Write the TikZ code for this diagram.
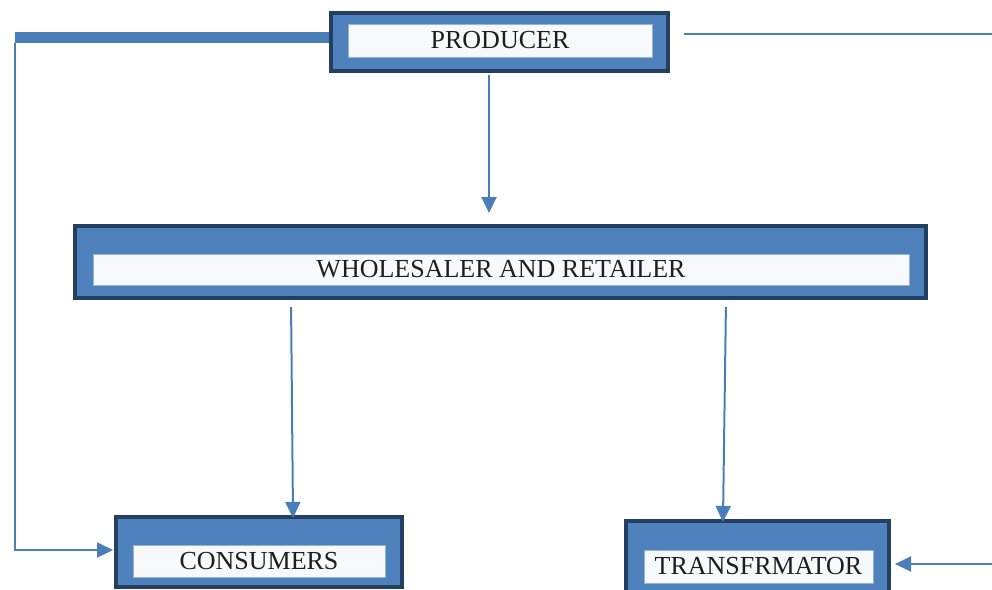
\documentclass[tikz,border=0pt]{standalone}
\usepackage{fontspec}
\setmainfont{Liberation Serif}
\usetikzlibrary{arrows.meta,calc}
\definecolor{boxdark}{HTML}{243F60}
\definecolor{boxblue}{HTML}{4F81BD}
\definecolor{boxwhite}{HTML}{F8F9FA}
\definecolor{linkblue}{HTML}{4A7EBB}
\definecolor{txt}{HTML}{1E1E1E}
\begin{document}
\begin{tikzpicture}[x=1pt,y=-1pt,
  outerbox/.style={draw=boxdark, fill=boxblue, line width=4pt, inner sep=0pt},
  innerbox/.style={draw=boxblue!60!white, fill=boxwhite, line width=0.8pt, inner sep=0pt, text=txt, font=\fontsize{26}{30}\selectfont},
  link/.style={draw=linkblue, line width=2pt},
  arr/.style={link, -{Triangle[length=16pt,width=15pt]}}]
\useasboundingbox (0,0) rectangle (992,589);
\clip (0,0) rectangle (992,589);
\fill[white] (0,0) rectangle (992,589);

% coordinates for connector positions
\coordinate (lc) at (15,37.5);
\coordinate (lv) at (15,43);
\coordinate (lcorner) at (15,550);
\coordinate (pw) at (489,0);
\coordinate (c1) at (291,0);
\coordinate (c2) at (293,0);
\coordinate (t1) at (726,0);
\coordinate (t2) at (723,0);
\coordinate (rtop) at (992,34);
\coordinate (rbot) at (992,564);

% boxes
\node[outerbox, minimum width=337pt, minimum height=58pt] (prod) at (499.5,42) {};
\draw[link, line width=11pt] (lc) -- (prod.west |- lc);
\node[outerbox, minimum width=337pt, minimum height=58pt] at (499.5,42) {};
\node[innerbox, minimum width=304pt, minimum height=33pt] (prodt) at (500,40.5) {\raisebox{-1.5pt}{PRODUCER}};

\node[outerbox, minimum width=851pt, minimum height=72pt] (whole) at (500.5,262) {};
\node[innerbox, minimum width=816pt, minimum height=31pt] (wholet) at (501,269.5) {WHOLESALER AND RETAILER};

\node[outerbox, minimum width=286pt, minimum height=70pt] (cons) at (259,552) {};
\node[innerbox, minimum width=252pt, minimum height=32pt] (const) at (259,561) {CONSUMERS};

\node[outerbox, minimum width=263pt, minimum height=76pt] (trans) at (757.5,559) {};
\node[innerbox, minimum width=229pt, minimum height=33pt] (transt) at (758.5,566.5) {TRANSFRMATOR};

% connectors
\draw[arr, shorten <=2pt, shorten >=11pt] (prod.south -| pw) -- (whole.north -| pw);
\draw[arr, shorten <=7pt, shorten >=-3pt] (whole.south -| c1) -- (cons.north -| c2);
\draw[arr, shorten <=7pt, shorten >=-3pt] (whole.south -| t1) -- (trans.north -| t2);
\draw[arr, shorten >=1pt] (lv) -- (lcorner) -- (cons.west |- lcorner);
\draw[link, shorten <=14pt] (prod.east |- rtop) -- (rtop);
\draw[arr, shorten >=4pt] (rbot) -- (trans.east |- rbot);
\end{tikzpicture}
\end{document}
